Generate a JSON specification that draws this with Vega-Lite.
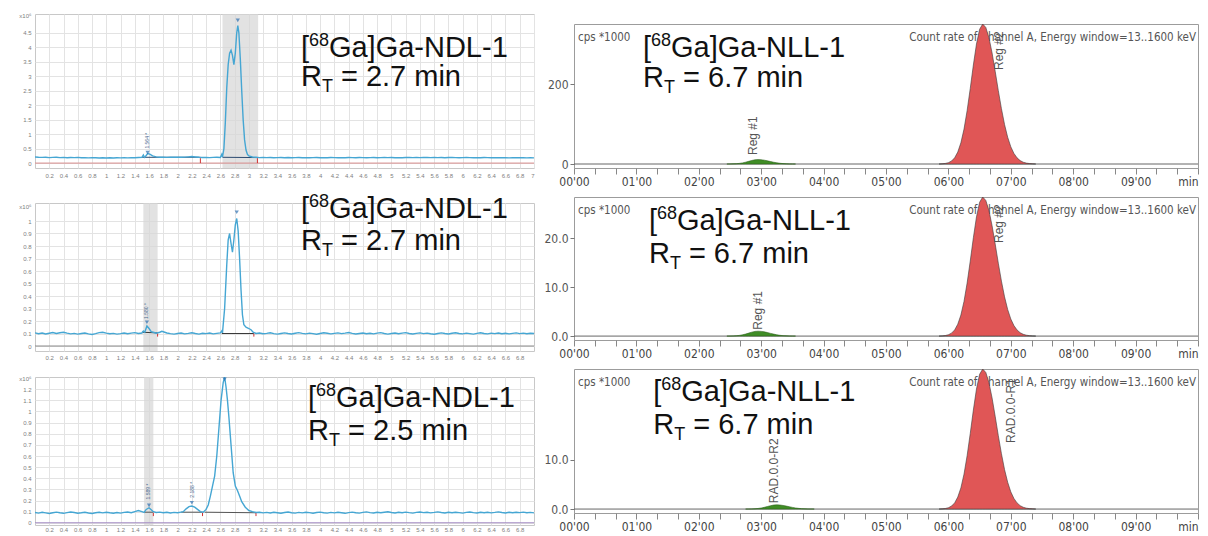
{
"$schema": "https://vega.github.io/schema/vega-lite/v6.json",
"background": "white",
"padding": {"left": 16, "top": 11, "right": 0, "bottom": 0},
"config": {"font": "Liberation Sans", "text": {"font": "Liberation Sans"}, "concat": {"spacing": 10}, "axis": {"labelOverlap": false}},
"datasets": {
"one": [{}],
"tl": [{"t":0,"v":0.21},{"t":0.05,"v":0.2},{"t":0.1,"v":0.196},{"t":0.15,"v":0.203},{"t":0.2,"v":0.19},{"t":0.25,"v":0.197},{"t":0.3,"v":0.201},{"t":0.35,"v":0.19},{"t":0.4,"v":0.196},{"t":0.45,"v":0.186},{"t":0.5,"v":0.195},{"t":0.55,"v":0.19},{"t":0.6,"v":0.197},{"t":0.65,"v":0.185},{"t":0.7,"v":0.19},{"t":0.75,"v":0.18},{"t":0.8,"v":0.188},{"t":0.85,"v":0.184},{"t":0.9,"v":0.178},{"t":0.95,"v":0.186},{"t":1,"v":0.176},{"t":1.05,"v":0.182},{"t":1.1,"v":0.175},{"t":1.15,"v":0.184},{"t":1.2,"v":0.179},{"t":1.25,"v":0.187},{"t":1.3,"v":0.181},{"t":1.35,"v":0.19},{"t":1.4,"v":0.185},{"t":1.45,"v":0.194},{"t":1.5,"v":0.2},{"t":1.52,"v":0.28},{"t":1.535,"v":0.2},{"t":1.55,"v":0.23},{"t":1.58,"v":0.33},{"t":1.61,"v":0.31},{"t":1.65,"v":0.25},{"t":1.7,"v":0.215},{"t":1.75,"v":0.2},{"t":1.8,"v":0.205},{"t":1.85,"v":0.198},{"t":1.9,"v":0.203},{"t":1.95,"v":0.2},{"t":2,"v":0.206},{"t":2.05,"v":0.2},{"t":2.1,"v":0.205},{"t":2.15,"v":0.215},{"t":2.2,"v":0.225},{"t":2.25,"v":0.212},{"t":2.3,"v":0.2},{"t":2.35,"v":0.193},{"t":2.4,"v":0.198},{"t":2.45,"v":0.19},{"t":2.5,"v":0.197},{"t":2.55,"v":0.2},{"t":2.6,"v":0.194},{"t":2.62,"v":0.3},{"t":2.63,"v":0.21},{"t":2.65,"v":0.5},{"t":2.67,"v":1.4},{"t":2.69,"v":2.6},{"t":2.71,"v":3.4},{"t":2.73,"v":3.8},{"t":2.75,"v":3.9},{"t":2.77,"v":3.72},{"t":2.79,"v":3.4},{"t":2.81,"v":3.8},{"t":2.83,"v":4.5},{"t":2.845,"v":4.75},{"t":2.86,"v":4.5},{"t":2.88,"v":3.6},{"t":2.9,"v":2.5},{"t":2.92,"v":1.5},{"t":2.94,"v":0.8},{"t":2.96,"v":0.45},{"t":2.98,"v":0.3},{"t":3,"v":0.25},{"t":3.05,"v":0.21},{"t":3.1,"v":0.2},{"t":3.15,"v":0.19},{"t":3.2,"v":0.196},{"t":3.25,"v":0.187},{"t":3.3,"v":0.193},{"t":3.35,"v":0.184},{"t":3.4,"v":0.19},{"t":3.45,"v":0.195},{"t":3.5,"v":0.186},{"t":3.55,"v":0.191},{"t":3.6,"v":0.183},{"t":3.65,"v":0.19},{"t":3.7,"v":0.194},{"t":3.75,"v":0.185},{"t":3.8,"v":0.19},{"t":3.85,"v":0.182},{"t":3.9,"v":0.188},{"t":3.95,"v":0.193},{"t":4,"v":0.184},{"t":4.05,"v":0.19},{"t":4.1,"v":0.186},{"t":4.15,"v":0.194},{"t":4.2,"v":0.188},{"t":4.25,"v":0.183},{"t":4.3,"v":0.19},{"t":4.35,"v":0.186},{"t":4.4,"v":0.195},{"t":4.45,"v":0.189},{"t":4.5,"v":0.184},{"t":4.55,"v":0.191},{"t":4.6,"v":0.187},{"t":4.65,"v":0.182},{"t":4.7,"v":0.189},{"t":4.75,"v":0.193},{"t":4.8,"v":0.186},{"t":4.85,"v":0.19},{"t":4.9,"v":0.196},{"t":4.95,"v":0.188},{"t":5,"v":0.192},{"t":5.05,"v":0.186},{"t":5.1,"v":0.19},{"t":5.15,"v":0.184},{"t":5.2,"v":0.191},{"t":5.25,"v":0.197},{"t":5.3,"v":0.189},{"t":5.35,"v":0.194},{"t":5.4,"v":0.187},{"t":5.45,"v":0.192},{"t":5.5,"v":0.198},{"t":5.55,"v":0.19},{"t":5.6,"v":0.194},{"t":5.65,"v":0.188},{"t":5.7,"v":0.193},{"t":5.75,"v":0.186},{"t":5.8,"v":0.191},{"t":5.85,"v":0.196},{"t":5.9,"v":0.189},{"t":5.95,"v":0.185},{"t":6,"v":0.19},{"t":6.05,"v":0.194},{"t":6.1,"v":0.187},{"t":6.15,"v":0.183},{"t":6.2,"v":0.19},{"t":6.25,"v":0.186},{"t":6.3,"v":0.192},{"t":6.35,"v":0.187},{"t":6.4,"v":0.182},{"t":6.45,"v":0.188},{"t":6.5,"v":0.184},{"t":6.55,"v":0.19},{"t":6.6,"v":0.185},{"t":6.65,"v":0.18},{"t":6.7,"v":0.186},{"t":6.75,"v":0.182},{"t":6.8,"v":0.188},{"t":6.85,"v":0.183},{"t":6.9,"v":0.179},{"t":6.95,"v":0.185},{"t":7,"v":0.18}],
"ml": [{"t":0,"v":0.105},{"t":0.05,"v":0.098},{"t":0.1,"v":0.104},{"t":0.15,"v":0.096},{"t":0.2,"v":0.102},{"t":0.25,"v":0.108},{"t":0.3,"v":0.1},{"t":0.35,"v":0.106},{"t":0.4,"v":0.11},{"t":0.45,"v":0.103},{"t":0.5,"v":0.097},{"t":0.55,"v":0.101},{"t":0.6,"v":0.095},{"t":0.65,"v":0.1},{"t":0.7,"v":0.104},{"t":0.75,"v":0.097},{"t":0.8,"v":0.092},{"t":0.85,"v":0.099},{"t":0.9,"v":0.107},{"t":0.95,"v":0.11},{"t":1,"v":0.103},{"t":1.05,"v":0.098},{"t":1.1,"v":0.101},{"t":1.15,"v":0.095},{"t":1.2,"v":0.099},{"t":1.25,"v":0.104},{"t":1.3,"v":0.098},{"t":1.35,"v":0.103},{"t":1.4,"v":0.107},{"t":1.45,"v":0.1},{"t":1.5,"v":0.104},{"t":1.52,"v":0.12},{"t":1.54,"v":0.11},{"t":1.57,"v":0.16},{"t":1.6,"v":0.14},{"t":1.63,"v":0.115},{"t":1.67,"v":0.108},{"t":1.7,"v":0.102},{"t":1.75,"v":0.11},{"t":1.78,"v":0.118},{"t":1.82,"v":0.11},{"t":1.85,"v":0.104},{"t":1.9,"v":0.099},{"t":1.95,"v":0.095},{"t":2,"v":0.1},{"t":2.05,"v":0.104},{"t":2.1,"v":0.097},{"t":2.15,"v":0.101},{"t":2.2,"v":0.106},{"t":2.25,"v":0.1},{"t":2.3,"v":0.095},{"t":2.35,"v":0.102},{"t":2.4,"v":0.099},{"t":2.45,"v":0.104},{"t":2.5,"v":0.097},{"t":2.55,"v":0.101},{"t":2.6,"v":0.105},{"t":2.62,"v":0.12},{"t":2.63,"v":0.105},{"t":2.66,"v":0.3},{"t":2.69,"v":0.65},{"t":2.71,"v":0.85},{"t":2.73,"v":0.9},{"t":2.75,"v":0.82},{"t":2.77,"v":0.75},{"t":2.79,"v":0.85},{"t":2.81,"v":0.97},{"t":2.83,"v":1.02},{"t":2.85,"v":0.92},{"t":2.87,"v":0.7},{"t":2.89,"v":0.45},{"t":2.91,"v":0.25},{"t":2.93,"v":0.17},{"t":2.96,"v":0.15},{"t":3,"v":0.14},{"t":3.03,"v":0.13},{"t":3.06,"v":0.11},{"t":3.1,"v":0.1},{"t":3.15,"v":0.104},{"t":3.2,"v":0.098},{"t":3.25,"v":0.101},{"t":3.3,"v":0.106},{"t":3.35,"v":0.099},{"t":3.4,"v":0.095},{"t":3.45,"v":0.1},{"t":3.5,"v":0.105},{"t":3.55,"v":0.1},{"t":3.6,"v":0.096},{"t":3.65,"v":0.102},{"t":3.7,"v":0.107},{"t":3.75,"v":0.101},{"t":3.8,"v":0.097},{"t":3.85,"v":0.103},{"t":3.9,"v":0.099},{"t":3.95,"v":0.094},{"t":4,"v":0.1},{"t":4.05,"v":0.106},{"t":4.1,"v":0.102},{"t":4.15,"v":0.097},{"t":4.2,"v":0.101},{"t":4.25,"v":0.105},{"t":4.3,"v":0.099},{"t":4.35,"v":0.103},{"t":4.4,"v":0.108},{"t":4.45,"v":0.101},{"t":4.5,"v":0.096},{"t":4.55,"v":0.1},{"t":4.6,"v":0.104},{"t":4.65,"v":0.098},{"t":4.7,"v":0.102},{"t":4.75,"v":0.097},{"t":4.8,"v":0.103},{"t":4.85,"v":0.107},{"t":4.9,"v":0.1},{"t":4.95,"v":0.095},{"t":5,"v":0.1},{"t":5.05,"v":0.104},{"t":5.1,"v":0.098},{"t":5.15,"v":0.103},{"t":5.2,"v":0.107},{"t":5.25,"v":0.1},{"t":5.3,"v":0.096},{"t":5.35,"v":0.101},{"t":5.4,"v":0.105},{"t":5.45,"v":0.099},{"t":5.5,"v":0.103},{"t":5.55,"v":0.098},{"t":5.6,"v":0.094},{"t":5.65,"v":0.1},{"t":5.7,"v":0.105},{"t":5.75,"v":0.1},{"t":5.8,"v":0.096},{"t":5.85,"v":0.102},{"t":5.9,"v":0.106},{"t":5.95,"v":0.1},{"t":6,"v":0.097},{"t":6.05,"v":0.103},{"t":6.1,"v":0.099},{"t":6.15,"v":0.095},{"t":6.2,"v":0.101},{"t":6.25,"v":0.106},{"t":6.3,"v":0.1},{"t":6.35,"v":0.097},{"t":6.4,"v":0.103},{"t":6.45,"v":0.099},{"t":6.5,"v":0.104},{"t":6.55,"v":0.098},{"t":6.6,"v":0.102},{"t":6.65,"v":0.097},{"t":6.7,"v":0.101},{"t":6.75,"v":0.105},{"t":6.8,"v":0.099},{"t":6.85,"v":0.103},{"t":6.9,"v":0.098},{"t":6.95,"v":0.102},{"t":7,"v":0.1}],
"bl": [{"t":0,"v":0.092},{"t":0.05,"v":0.087},{"t":0.1,"v":0.094},{"t":0.15,"v":0.089},{"t":0.2,"v":0.083},{"t":0.25,"v":0.09},{"t":0.3,"v":0.096},{"t":0.35,"v":0.09},{"t":0.4,"v":0.085},{"t":0.45,"v":0.091},{"t":0.5,"v":0.097},{"t":0.55,"v":0.092},{"t":0.6,"v":0.086},{"t":0.65,"v":0.09},{"t":0.7,"v":0.095},{"t":0.75,"v":0.088},{"t":0.8,"v":0.084},{"t":0.85,"v":0.09},{"t":0.9,"v":0.094},{"t":0.95,"v":0.089},{"t":1,"v":0.095},{"t":1.05,"v":0.09},{"t":1.1,"v":0.086},{"t":1.15,"v":0.092},{"t":1.2,"v":0.087},{"t":1.25,"v":0.093},{"t":1.3,"v":0.097},{"t":1.35,"v":0.09},{"t":1.4,"v":0.1},{"t":1.45,"v":0.11},{"t":1.5,"v":0.1},{"t":1.53,"v":0.094},{"t":1.56,"v":0.12},{"t":1.6,"v":0.135},{"t":1.63,"v":0.118},{"t":1.66,"v":0.1},{"t":1.7,"v":0.092},{"t":1.75,"v":0.096},{"t":1.8,"v":0.09},{"t":1.85,"v":0.094},{"t":1.9,"v":0.088},{"t":1.95,"v":0.093},{"t":2,"v":0.09},{"t":2.05,"v":0.096},{"t":2.08,"v":0.1},{"t":2.12,"v":0.125},{"t":2.16,"v":0.145},{"t":2.2,"v":0.15},{"t":2.24,"v":0.14},{"t":2.28,"v":0.12},{"t":2.32,"v":0.1},{"t":2.36,"v":0.095},{"t":2.4,"v":0.12},{"t":2.43,"v":0.16},{"t":2.46,"v":0.24},{"t":2.49,"v":0.33},{"t":2.52,"v":0.42},{"t":2.55,"v":0.6},{"t":2.58,"v":0.85},{"t":2.61,"v":1.1},{"t":2.64,"v":1.26},{"t":2.66,"v":1.31},{"t":2.68,"v":1.22},{"t":2.7,"v":1.1},{"t":2.72,"v":0.95},{"t":2.75,"v":0.7},{"t":2.78,"v":0.45},{"t":2.81,"v":0.33},{"t":2.84,"v":0.29},{"t":2.87,"v":0.24},{"t":2.9,"v":0.19},{"t":2.95,"v":0.14},{"t":3,"v":0.11},{"t":3.05,"v":0.1},{"t":3.1,"v":0.092},{"t":3.15,"v":0.095},{"t":3.2,"v":0.089},{"t":3.25,"v":0.093},{"t":3.3,"v":0.088},{"t":3.35,"v":0.094},{"t":3.4,"v":0.09},{"t":3.45,"v":0.086},{"t":3.5,"v":0.092},{"t":3.55,"v":0.097},{"t":3.6,"v":0.09},{"t":3.65,"v":0.087},{"t":3.7,"v":0.093},{"t":3.75,"v":0.089},{"t":3.8,"v":0.095},{"t":3.85,"v":0.091},{"t":3.9,"v":0.086},{"t":3.95,"v":0.092},{"t":4,"v":0.096},{"t":4.05,"v":0.09},{"t":4.1,"v":0.087},{"t":4.15,"v":0.093},{"t":4.2,"v":0.089},{"t":4.25,"v":0.094},{"t":4.3,"v":0.09},{"t":4.35,"v":0.085},{"t":4.4,"v":0.091},{"t":4.45,"v":0.096},{"t":4.5,"v":0.09},{"t":4.55,"v":0.087},{"t":4.6,"v":0.093},{"t":4.65,"v":0.098},{"t":4.7,"v":0.091},{"t":4.75,"v":0.088},{"t":4.8,"v":0.094},{"t":4.85,"v":0.09},{"t":4.9,"v":0.095},{"t":4.95,"v":0.099},{"t":5,"v":0.092},{"t":5.05,"v":0.088},{"t":5.1,"v":0.094},{"t":5.15,"v":0.09},{"t":5.2,"v":0.096},{"t":5.25,"v":0.091},{"t":5.3,"v":0.087},{"t":5.35,"v":0.093},{"t":5.4,"v":0.097},{"t":5.45,"v":0.091},{"t":5.5,"v":0.094},{"t":5.55,"v":0.089},{"t":5.6,"v":0.093},{"t":5.65,"v":0.098},{"t":5.7,"v":0.092},{"t":5.75,"v":0.088},{"t":5.8,"v":0.094},{"t":5.85,"v":0.09},{"t":5.9,"v":0.095},{"t":5.95,"v":0.091},{"t":6,"v":0.087},{"t":6.05,"v":0.093},{"t":6.1,"v":0.097},{"t":6.15,"v":0.091},{"t":6.2,"v":0.088},{"t":6.25,"v":0.094},{"t":6.3,"v":0.09},{"t":6.35,"v":0.095},{"t":6.4,"v":0.089},{"t":6.45,"v":0.093},{"t":6.5,"v":0.098},{"t":6.55,"v":0.092},{"t":6.6,"v":0.088},{"t":6.65,"v":0.094},{"t":6.7,"v":0.09},{"t":6.75,"v":0.095},{"t":6.8,"v":0.091},{"t":6.85,"v":0.096},{"t":6.9,"v":0.09},{"t":6.95,"v":0.093},{"t":7,"v":0.089}],
"red350": [{"t":5.85,"v":0},{"t":5.9,"v":0.5},{"t":5.95,"v":1.4},{"t":6,"v":3.3},{"t":6.05,"v":7.4},{"t":6.1,"v":15.4},{"t":6.15,"v":29.8},{"t":6.2,"v":52.9},{"t":6.25,"v":87.2},{"t":6.3,"v":133.4},{"t":6.35,"v":188.7},{"t":6.4,"v":247.5},{"t":6.45,"v":300},{"t":6.5,"v":336.7},{"t":6.55,"v":350},{"t":6.6,"v":341.3},{"t":6.65,"v":315.7},{"t":6.7,"v":277.6},{"t":6.75,"v":231.7},{"t":6.8,"v":183.4},{"t":6.85,"v":138.3},{"t":6.9,"v":98.7},{"t":6.95,"v":66.9},{"t":7,"v":43.1},{"t":7.05,"v":26.5},{"t":7.1,"v":15.4},{"t":7.15,"v":8.5},{"t":7.2,"v":4.4},{"t":7.25,"v":2.2},{"t":7.3,"v":1.1},{"t":7.35,"v":0.5},{"t":7.4,"v":0}],
"red28": [{"t":5.85,"v":0},{"t":5.9,"v":0.04},{"t":5.95,"v":0.11},{"t":6,"v":0.27},{"t":6.05,"v":0.6},{"t":6.1,"v":1.25},{"t":6.15,"v":2.42},{"t":6.2,"v":4.29},{"t":6.25,"v":7.08},{"t":6.3,"v":10.82},{"t":6.35,"v":15.31},{"t":6.4,"v":20.08},{"t":6.45,"v":24.34},{"t":6.5,"v":27.32},{"t":6.55,"v":28.4},{"t":6.6,"v":27.69},{"t":6.65,"v":25.62},{"t":6.7,"v":22.52},{"t":6.75,"v":18.8},{"t":6.8,"v":14.88},{"t":6.85,"v":11.22},{"t":6.9,"v":8.01},{"t":6.95,"v":5.43},{"t":7,"v":3.49},{"t":7.05,"v":2.15},{"t":7.1,"v":1.25},{"t":7.15,"v":0.69},{"t":7.2,"v":0.36},{"t":7.25,"v":0.18},{"t":7.3,"v":0.09},{"t":7.35,"v":0.04},{"t":7.4,"v":0}],
"gtr": [{"t":2.45,"v":0},{"t":2.5,"v":0.12},{"t":2.55,"v":0.33},{"t":2.6,"v":0.73},{"t":2.65,"v":1.49},{"t":2.7,"v":2.74},{"t":2.75,"v":4.52},{"t":2.8,"v":6.68},{"t":2.85,"v":8.81},{"t":2.9,"v":10.4},{"t":2.95,"v":11},{"t":3,"v":10.6},{"t":3.05,"v":9.5},{"t":3.1,"v":7.9},{"t":3.15,"v":6.1},{"t":3.2,"v":4.4},{"t":3.25,"v":2.9},{"t":3.3,"v":1.8},{"t":3.35,"v":1},{"t":3.4,"v":0.5},{"t":3.45,"v":0.2},{"t":3.5,"v":0.1},{"t":3.55,"v":0}],
"gmr": [{"t":2.45,"v":0},{"t":2.5,"v":0.01},{"t":2.55,"v":0.03},{"t":2.6,"v":0.07},{"t":2.65,"v":0.14},{"t":2.7,"v":0.25},{"t":2.75,"v":0.41},{"t":2.8,"v":0.61},{"t":2.85,"v":0.8},{"t":2.9,"v":0.95},{"t":2.95,"v":1},{"t":3,"v":0.96},{"t":3.05,"v":0.86},{"t":3.1,"v":0.72},{"t":3.15,"v":0.55},{"t":3.2,"v":0.4},{"t":3.25,"v":0.26},{"t":3.3,"v":0.16},{"t":3.35,"v":0.09},{"t":3.4,"v":0.05},{"t":3.45,"v":0.02},{"t":3.5,"v":0.01},{"t":3.55,"v":0}],
"gbr": [{"t":2.75,"v":0},{"t":2.8,"v":0.01},{"t":2.85,"v":0.03},{"t":2.9,"v":0.06},{"t":2.95,"v":0.12},{"t":3,"v":0.21},{"t":3.05,"v":0.35},{"t":3.1,"v":0.52},{"t":3.15,"v":0.68},{"t":3.2,"v":0.81},{"t":3.25,"v":0.85},{"t":3.3,"v":0.82},{"t":3.35,"v":0.73},{"t":3.4,"v":0.61},{"t":3.45,"v":0.47},{"t":3.5,"v":0.34},{"t":3.55,"v":0.22},{"t":3.6,"v":0.14},{"t":3.65,"v":0.08},{"t":3.7,"v":0.04},{"t":3.75,"v":0.02},{"t":3.8,"v":0.01},{"t":3.85,"v":0}]
},
"spacing": 7,
"hconcat": [
{"vconcat": [
{"width": 499, "height": 154, "view": {"stroke": "#c8c8c8"},
 "layer": [
  {"data": {"values": [{"a": 2.63, "b": 3.13}]}, "mark": {"type": "rect", "color": "#d6d6d6", "opacity": 0.7}, "encoding": {"x": {"field": "a", "type": "quantitative", "scale": {"domain": [0, 7], "nice": false, "zero": false}, "axis": {"title": null}}, "x2": {"field": "b"}}},
  {"data": {"name": "one"}, "mark": {"type": "rule", "color": "#d98c8c", "strokeWidth": 1}, "encoding": {"y": {"datum": 0, "type": "quantitative", "axis": {"title": null}}}},
  {"data": {"values": [{"a": 1.5, "b": 2.32, "c": 0.2, "d": 0.2}, {"a": 2.63, "b": 3.12, "c": 0.2, "d": 0.19}]}, "mark": {"type": "rule", "color": "#2c4a70", "strokeWidth": 1}, "encoding": {"x": {"field": "a", "type": "quantitative", "axis": {"title": null}}, "x2": {"field": "b"}, "y": {"field": "c", "type": "quantitative", "axis": {"title": null}}, "y2": {"field": "d"}}},
  {"data": {"values": [{"a": 2.32, "c": 0, "d": 0.17}, {"a": 3.12, "c": 0, "d": 0.17}]}, "mark": {"type": "rule", "color": "#d03030", "strokeWidth": 1}, "encoding": {"x": {"field": "a", "type": "quantitative", "axis": {"title": null}}, "y": {"field": "c", "type": "quantitative", "axis": {"title": null}}, "y2": {"field": "d"}}},
  {"data": {"name": "tl"}, "mark": {"type": "line", "color": "#45a6d3", "strokeWidth": 1.4, "clip": true},
   "encoding": {
    "x": {"field": "t", "type": "quantitative", "scale": {"domain": [0, 7], "nice": false, "zero": false}, "axis": {"values": [0.2,0.4,0.6,0.8,1,1.2,1.4,1.6,1.8,2,2.2,2.4,2.6,2.8,3,3.2,3.4,3.6,3.8,4,4.2,4.4,4.6,4.8,5,5.2,5.4,5.6,5.8,6,6.2,6.4,6.6,6.8,7], "tickCount": 200, "labelExpr": "format(datum.value, '.1~f')", "title": "Retention Time (min)", "titleColor": "#b0b0b0", "titleFontSize": 6, "titleFontWeight": "normal", "titlePadding": 5, "grid": true, "gridColor": "#e3e3e3", "domain": false, "ticks": false, "labelFontSize": 6, "labelColor": "#808080", "labelPadding": 4, "labelOverlap": false, "labelFlush": true}},
    "y": {"field": "v", "type": "quantitative", "scale": {"domain": [-0.17, 5.15], "nice": false, "zero": false}, "axis": {"values": [0,0.5,1,1.5,2,2.5,3,3.5,4,4.5,5.1], "tickCount": 200, "labelExpr": "datum.value > 5 ? 'x10⁶' : format(datum.value, '.1~f')", "title": null, "grid": true, "gridColor": {"condition": {"test": "datum.value > 5", "value": "transparent"}, "value": "#e3e3e3"}, "domain": false, "ticks": false, "labelFontSize": 6, "labelColor": "#808080", "labelPadding": 4, "labelOverlap": false, "minExtent": 18, "maxExtent": 18}}
   }},
  {"data": {"values": [{"t": 1.58, "v": 0.36}, {"t": 2.845, "v": 4.93}]}, "mark": {"type": "point", "shape": "triangle-down", "filled": true, "color": "#2d6fb0", "size": 18}, "encoding": {"x": {"field": "t", "type": "quantitative", "axis": {"title": null}}, "y": {"field": "v", "type": "quantitative", "axis": {"title": null}}}},
  {"data": {"values": [{"t": 1.57, "v": 0.5, "s": "1.564 *"}]}, "mark": {"type": "text", "angle": 270, "align": "left", "baseline": "middle", "fontSize": 5, "color": "#4a6a90"}, "encoding": {"x": {"field": "t", "type": "quantitative", "axis": {"title": null}}, "y": {"field": "v", "type": "quantitative", "axis": {"title": null}}, "text": {"field": "s"}}},
  {"data": {"name": "one"}, "mark": {"type": "text", "text": "[", "align": "left", "baseline": "alphabetic", "fontSize": 29, "color": "#111"}, "encoding": {"x": {"datum": 3.73, "type": "quantitative", "axis": {"title": null}}, "y": {"datum": 3.68, "type": "quantitative", "axis": {"title": null}}}},
  {"data": {"name": "one"}, "mark": {"type": "text", "text": "68", "align": "left", "baseline": "alphabetic", "fontSize": 18, "dx": 8, "dy": -11, "color": "#111"}, "encoding": {"x": {"datum": 3.73, "type": "quantitative", "axis": {"title": null}}, "y": {"datum": 3.68, "type": "quantitative", "axis": {"title": null}}}},
  {"data": {"name": "one"}, "mark": {"type": "text", "text": "Ga]Ga-NDL-1", "align": "left", "baseline": "alphabetic", "fontSize": 29, "dx": 28, "color": "#111"}, "encoding": {"x": {"datum": 3.73, "type": "quantitative", "axis": {"title": null}}, "y": {"datum": 3.68, "type": "quantitative", "axis": {"title": null}}}},
  {"data": {"name": "one"}, "mark": {"type": "text", "text": "R", "align": "left", "baseline": "alphabetic", "fontSize": 29, "color": "#111"}, "encoding": {"x": {"datum": 3.73, "type": "quantitative", "axis": {"title": null}}, "y": {"datum": 2.68, "type": "quantitative", "axis": {"title": null}}}},
  {"data": {"name": "one"}, "mark": {"type": "text", "text": "T", "align": "left", "baseline": "alphabetic", "fontSize": 18, "dx": 21, "dy": 6, "color": "#111"}, "encoding": {"x": {"datum": 3.73, "type": "quantitative", "axis": {"title": null}}, "y": {"datum": 2.68, "type": "quantitative", "axis": {"title": null}}}},
  {"data": {"name": "one"}, "mark": {"type": "text", "text": "= 2.7 min", "align": "left", "baseline": "alphabetic", "fontSize": 29, "dx": 40, "color": "#111"}, "encoding": {"x": {"datum": 3.73, "type": "quantitative", "axis": {"title": null}}, "y": {"datum": 2.68, "type": "quantitative", "axis": {"title": null}}}}
 ]},
{"width": 499, "height": 148, "view": {"stroke": "#c8c8c8"},
 "layer": [
  {"data": {"values": [{"a": 1.52, "b": 1.72}]}, "mark": {"type": "rect", "color": "#d6d6d6", "opacity": 0.7}, "encoding": {"x": {"field": "a", "type": "quantitative", "scale": {"domain": [0, 7], "nice": false, "zero": false}, "axis": {"title": null}}, "x2": {"field": "b"}}},
  {"data": {"name": "one"}, "mark": {"type": "rule", "color": "#8a8a8a", "strokeWidth": 1}, "encoding": {"y": {"datum": 0, "type": "quantitative", "axis": {"title": null}}}},
  {"data": {"values": [{"a": 1.5, "b": 1.72, "c": 0.11, "d": 0.105}, {"a": 2.62, "b": 3.07, "c": 0.1, "d": 0.1}]}, "mark": {"type": "rule", "color": "#3a3a3a", "strokeWidth": 1}, "encoding": {"x": {"field": "a", "type": "quantitative", "axis": {"title": null}}, "x2": {"field": "b"}, "y": {"field": "c", "type": "quantitative", "axis": {"title": null}}, "y2": {"field": "d"}}},
  {"data": {"values": [{"a": 1.72, "c": 0.075, "d": 0.1}, {"a": 3.07, "c": 0.075, "d": 0.1}]}, "mark": {"type": "rule", "color": "#d03030", "strokeWidth": 1}, "encoding": {"x": {"field": "a", "type": "quantitative", "axis": {"title": null}}, "y": {"field": "c", "type": "quantitative", "axis": {"title": null}}, "y2": {"field": "d"}}},
  {"data": {"name": "ml"}, "mark": {"type": "line", "color": "#45a6d3", "strokeWidth": 1.4, "clip": true},
   "encoding": {
    "x": {"field": "t", "type": "quantitative", "scale": {"domain": [0, 7], "nice": false, "zero": false}, "axis": {"values": [0.2,0.4,0.6,0.8,1,1.2,1.4,1.6,1.8,2,2.2,2.4,2.6,2.8,3,3.2,3.4,3.6,3.8,4,4.2,4.4,4.6,4.8,5,5.2,5.4,5.6,5.8,6,6.2,6.4,6.6,6.8], "tickCount": 200, "labelExpr": "format(datum.value, '.1~f')", "title": null, "grid": true, "gridColor": "#e3e3e3", "domain": false, "ticks": false, "labelFontSize": 6, "labelColor": "#808080", "labelPadding": 3, "labelOverlap": false, "labelFlush": false}},
    "y": {"field": "v", "type": "quantitative", "scale": {"domain": [-0.04, 1.144], "nice": false, "zero": false}, "axis": {"values": [0,0.1,0.2,0.3,0.4,0.5,0.6,0.7,0.8,0.9,1,1.12], "tickCount": 200, "labelExpr": "datum.value > 1.05 ? 'x10⁶' : format(datum.value, '.1~f')", "title": null, "grid": true, "gridColor": {"condition": {"test": "datum.value > 1.05", "value": "transparent"}, "value": "#e3e3e3"}, "domain": false, "ticks": false, "labelFontSize": 6, "labelColor": "#808080", "labelPadding": 4, "labelOverlap": false, "minExtent": 18, "maxExtent": 18}}
   }},
  {"data": {"values": [{"t": 1.57, "v": 0.19}, {"t": 2.83, "v": 1.07}]}, "mark": {"type": "point", "shape": "triangle-down", "filled": true, "color": "#2d6fb0", "size": 18}, "encoding": {"x": {"field": "t", "type": "quantitative", "axis": {"title": null}}, "y": {"field": "v", "type": "quantitative", "axis": {"title": null}}}},
  {"data": {"values": [{"t": 1.56, "v": 0.216, "s": "1.580 *"}]}, "mark": {"type": "text", "angle": 270, "align": "left", "baseline": "middle", "fontSize": 5, "color": "#4a6a90"}, "encoding": {"x": {"field": "t", "type": "quantitative", "axis": {"title": null}}, "y": {"field": "v", "type": "quantitative", "axis": {"title": null}}, "text": {"field": "s"}}},
  {"data": {"name": "one"}, "mark": {"type": "text", "text": "[", "align": "left", "baseline": "alphabetic", "fontSize": 29, "color": "#111"}, "encoding": {"x": {"datum": 3.73, "type": "quantitative", "axis": {"title": null}}, "y": {"datum": 1.024, "type": "quantitative", "axis": {"title": null}}}},
  {"data": {"name": "one"}, "mark": {"type": "text", "text": "68", "align": "left", "baseline": "alphabetic", "fontSize": 18, "dx": 8, "dy": -11, "color": "#111"}, "encoding": {"x": {"datum": 3.73, "type": "quantitative", "axis": {"title": null}}, "y": {"datum": 1.024, "type": "quantitative", "axis": {"title": null}}}},
  {"data": {"name": "one"}, "mark": {"type": "text", "text": "Ga]Ga-NDL-1", "align": "left", "baseline": "alphabetic", "fontSize": 29, "dx": 28, "color": "#111"}, "encoding": {"x": {"datum": 3.73, "type": "quantitative", "axis": {"title": null}}, "y": {"datum": 1.024, "type": "quantitative", "axis": {"title": null}}}},
  {"data": {"name": "one"}, "mark": {"type": "text", "text": "R", "align": "left", "baseline": "alphabetic", "fontSize": 29, "color": "#111"}, "encoding": {"x": {"datum": 3.73, "type": "quantitative", "axis": {"title": null}}, "y": {"datum": 0.768, "type": "quantitative", "axis": {"title": null}}}},
  {"data": {"name": "one"}, "mark": {"type": "text", "text": "T", "align": "left", "baseline": "alphabetic", "fontSize": 18, "dx": 21, "dy": 6, "color": "#111"}, "encoding": {"x": {"datum": 3.73, "type": "quantitative", "axis": {"title": null}}, "y": {"datum": 0.768, "type": "quantitative", "axis": {"title": null}}}},
  {"data": {"name": "one"}, "mark": {"type": "text", "text": "= 2.7 min", "align": "left", "baseline": "alphabetic", "fontSize": 29, "dx": 40, "color": "#111"}, "encoding": {"x": {"datum": 3.73, "type": "quantitative", "axis": {"title": null}}, "y": {"datum": 0.768, "type": "quantitative", "axis": {"title": null}}}}
 ]},
{"width": 499, "height": 148, "view": {"stroke": "#c8c8c8"},
 "layer": [
  {"data": {"values": [{"a": 1.53, "b": 1.66}]}, "mark": {"type": "rect", "color": "#d6d6d6", "opacity": 0.7}, "encoding": {"x": {"field": "a", "type": "quantitative", "scale": {"domain": [0, 7], "nice": false, "zero": false}, "axis": {"title": null}}, "x2": {"field": "b"}}},
  {"data": {"name": "one"}, "mark": {"type": "rule", "color": "#a58cc4", "strokeWidth": 1.2}, "encoding": {"y": {"datum": 0, "type": "quantitative", "axis": {"title": null}}}},
  {"data": {"values": [{"a": 1.53, "b": 1.66, "c": 0.095, "d": 0.095}, {"a": 2.05, "b": 2.35, "c": 0.095, "d": 0.095}, {"a": 2.38, "b": 3.1, "c": 0.095, "d": 0.09}]}, "mark": {"type": "rule", "color": "#555555", "strokeWidth": 1}, "encoding": {"x": {"field": "a", "type": "quantitative", "axis": {"title": null}}, "x2": {"field": "b"}, "y": {"field": "c", "type": "quantitative", "axis": {"title": null}}, "y2": {"field": "d"}}},
  {"data": {"values": [{"a": 1.66, "c": 0.06, "d": 0.09}, {"a": 2.35, "c": 0.06, "d": 0.09}, {"a": 3.1, "c": 0.06, "d": 0.09}]}, "mark": {"type": "rule", "color": "#d03030", "strokeWidth": 1}, "encoding": {"x": {"field": "a", "type": "quantitative", "axis": {"title": null}}, "y": {"field": "c", "type": "quantitative", "axis": {"title": null}}, "y2": {"field": "d"}}},
  {"data": {"name": "bl"}, "mark": {"type": "line", "color": "#45a6d3", "strokeWidth": 1.4, "clip": true},
   "encoding": {
    "x": {"field": "t", "type": "quantitative", "scale": {"domain": [0, 7], "nice": false, "zero": false}, "axis": {"values": [0.2,0.4,0.6,0.8,1,1.2,1.4,1.6,1.8,2,2.2,2.4,2.6,2.8,3,3.2,3.4,3.6,3.8,4,4.2,4.4,4.6,4.8,5,5.2,5.4,5.6,5.8,6,6.2,6.4,6.6,6.8], "tickCount": 200, "labelExpr": "format(datum.value, '.1~f')", "title": null, "grid": true, "gridColor": "#e3e3e3", "domain": false, "ticks": false, "labelFontSize": 6, "labelColor": "#808080", "labelPadding": 1, "labelOverlap": false, "labelFlush": false}},
    "y": {"field": "v", "type": "quantitative", "scale": {"domain": [-0.02, 1.31], "nice": false, "zero": false}, "axis": {"values": [0,0.1,0.2,0.3,0.4,0.5,0.6,0.7,0.8,0.9,1,1.1,1.2,1.3], "tickCount": 200, "labelExpr": "datum.value > 1.25 ? 'x10⁶' : format(datum.value, '.1~f')", "title": "response", "titleFontSize": 6, "titleColor": "#888888", "titleFontWeight": "normal", "titlePadding": 2, "grid": true, "gridColor": {"condition": {"test": "datum.value > 1.25", "value": "transparent"}, "value": "#e3e3e3"}, "domain": false, "ticks": false, "labelFontSize": 6, "labelColor": "#808080", "labelPadding": 4, "labelOverlap": false, "minExtent": 18, "maxExtent": 18}}
   }},
  {"data": {"values": [{"t": 1.6, "v": 0.156}, {"t": 2.2, "v": 0.18}, {"t": 2.66, "v": 1.29}]}, "mark": {"type": "point", "shape": "triangle-down", "filled": true, "color": "#2d6fb0", "size": 18}, "encoding": {"x": {"field": "t", "type": "quantitative", "axis": {"title": null}}, "y": {"field": "v", "type": "quantitative", "axis": {"title": null}}}},
  {"data": {"values": [{"t": 1.59, "v": 0.21, "s": "1.589 *"}, {"t": 2.2, "v": 0.226, "s": "2.188 *"}]}, "mark": {"type": "text", "angle": 270, "align": "left", "baseline": "middle", "fontSize": 5, "color": "#4a6a90"}, "encoding": {"x": {"field": "t", "type": "quantitative", "axis": {"title": null}}, "y": {"field": "v", "type": "quantitative", "axis": {"title": null}}, "text": {"field": "s"}}},
  {"data": {"name": "one"}, "mark": {"type": "text", "text": "[", "align": "left", "baseline": "alphabetic", "fontSize": 29, "color": "#111"}, "encoding": {"x": {"datum": 3.83, "type": "quantitative", "axis": {"title": null}}, "y": {"datum": 1.037, "type": "quantitative", "axis": {"title": null}}}},
  {"data": {"name": "one"}, "mark": {"type": "text", "text": "68", "align": "left", "baseline": "alphabetic", "fontSize": 18, "dx": 8, "dy": -11, "color": "#111"}, "encoding": {"x": {"datum": 3.83, "type": "quantitative", "axis": {"title": null}}, "y": {"datum": 1.037, "type": "quantitative", "axis": {"title": null}}}},
  {"data": {"name": "one"}, "mark": {"type": "text", "text": "Ga]Ga-NDL-1", "align": "left", "baseline": "alphabetic", "fontSize": 29, "dx": 28, "color": "#111"}, "encoding": {"x": {"datum": 3.83, "type": "quantitative", "axis": {"title": null}}, "y": {"datum": 1.037, "type": "quantitative", "axis": {"title": null}}}},
  {"data": {"name": "one"}, "mark": {"type": "text", "text": "R", "align": "left", "baseline": "alphabetic", "fontSize": 29, "color": "#111"}, "encoding": {"x": {"datum": 3.83, "type": "quantitative", "axis": {"title": null}}, "y": {"datum": 0.746, "type": "quantitative", "axis": {"title": null}}}},
  {"data": {"name": "one"}, "mark": {"type": "text", "text": "T", "align": "left", "baseline": "alphabetic", "fontSize": 18, "dx": 21, "dy": 6, "color": "#111"}, "encoding": {"x": {"datum": 3.83, "type": "quantitative", "axis": {"title": null}}, "y": {"datum": 0.746, "type": "quantitative", "axis": {"title": null}}}},
  {"data": {"name": "one"}, "mark": {"type": "text", "text": "= 2.5 min", "align": "left", "baseline": "alphabetic", "fontSize": 29, "dx": 40, "color": "#111"}, "encoding": {"x": {"datum": 3.83, "type": "quantitative", "axis": {"title": null}}, "y": {"datum": 0.746, "type": "quantitative", "axis": {"title": null}}}}
 ]}
], "spacing": 13},
{"vconcat": [
{"width": 624, "height": 1, "data": {"values": []}, "mark": "point", "view": {"stroke": null}},
{"width": 624, "height": 144, "view": {"stroke": "#9c9c9c"},
 "layer": [
  {"data": {"name": "one"}, "mark": {"type": "text", "text": "cps *1000", "align": "left", "baseline": "middle", "dx": 4, "fontSize": 11.5, "font": "DejaVu Sans Condensed, Liberation Sans", "color": "#555555"}, "encoding": {"x": {"datum": 0, "type": "quantitative", "axis": {"title": null}}, "y": {"datum": 315, "type": "quantitative", "axis": {"title": null}}}},
  {"data": {"name": "one"}, "mark": {"type": "text", "text": "Count rate of Channel A, Energy window=13..1600 keV", "align": "right", "baseline": "middle", "dx": -2, "fontSize": 11.5, "font": "DejaVu Sans Condensed, Liberation Sans", "color": "#555555"}, "encoding": {"x": {"datum": 10, "type": "quantitative", "axis": {"title": null}}, "y": {"datum": 315, "type": "quantitative", "axis": {"title": null}}}},
  {"data": {"name": "one"}, "mark": {"type": "rule", "color": "#666666", "strokeWidth": 1}, "encoding": {"y": {"datum": 0, "type": "quantitative", "axis": {"title": null}}}},
  {"data": {"name": "gtr"}, "mark": {"type": "area", "fill": "#3f8d25", "stroke": "#2d5f1c", "strokeWidth": 0.6}, "encoding": {"x": {"field": "t", "type": "quantitative", "axis": {"title": null}}, "y": {"field": "v", "type": "quantitative", "axis": {"title": null}}}},
  {"data": {"name": "red350"}, "mark": {"type": "area", "fill": "#e05656", "stroke": "#3a3a3a", "strokeWidth": 0.6, "clip": true},
   "encoding": {
    "x": {"field": "t", "type": "quantitative", "scale": {"domain": [0, 10], "nice": false, "zero": false}, "axis": {"values": [0,0.3333,0.6667,1,1.3333,1.6667,2,2.3333,2.6667,3,3.3333,3.6667,4,4.3333,4.6667,5,5.3333,5.6667,6,6.3333,6.6667,7,7.3333,7.6667,8,8.3333,8.6667,9,9.3333,9.6667,10], "tickCount": 200, "labelExpr": "abs(datum.value - round(datum.value)) < 0.01 ? (datum.value > 9.99 ? 'min' : '0' + round(datum.value) + \"'00\") : ''", "labelAlign": {"condition": {"test": "datum.value > 9.99", "value": "right"}, "value": "center"}, "title": null, "grid": false, "domain": false, "tickSize": 6, "tickColor": "#888888", "labelFontSize": 12, "labelFont": "DejaVu Sans Condensed, Liberation Sans", "labelColor": "#444444", "labelPadding": 2, "labelFlush": false, "labelOverlap": false}},
    "y": {"field": "v", "type": "quantitative", "scale": {"domain": [-10, 350], "nice": false, "zero": false}, "axis": {"values": [0, 200], "tickCount": 200, "title": null, "grid": false, "domain": false, "tickSize": 4, "tickColor": "#777777", "labelFontSize": 12, "labelFont": "DejaVu Sans Condensed, Liberation Sans", "labelColor": "#555555", "labelPadding": 2, "labelOverlap": false, "minExtent": 28, "maxExtent": 28}}
   }},
  {"data": {"values": [{"t": 6.81, "v": 235, "s": "Reg #2"}, {"t": 2.87, "v": 22.5, "s": "Reg #1"}]}, "mark": {"type": "text", "angle": 270, "align": "left", "baseline": "middle", "fontSize": 12, "font": "Liberation Sans", "color": "#555555"}, "encoding": {"x": {"field": "t", "type": "quantitative", "axis": {"title": null}}, "y": {"field": "v", "type": "quantitative", "axis": {"title": null}}, "text": {"field": "s"}}},
  {"data": {"name": "one"}, "mark": {"type": "text", "text": "[", "align": "left", "baseline": "alphabetic", "fontSize": 29, "color": "#111"}, "encoding": {"x": {"datum": 1.106, "type": "quantitative", "axis": {"title": null}}, "y": {"datum": 267.5, "type": "quantitative", "axis": {"title": null}}}},
  {"data": {"name": "one"}, "mark": {"type": "text", "text": "68", "align": "left", "baseline": "alphabetic", "fontSize": 18, "dx": 8, "dy": -11, "color": "#111"}, "encoding": {"x": {"datum": 1.106, "type": "quantitative", "axis": {"title": null}}, "y": {"datum": 267.5, "type": "quantitative", "axis": {"title": null}}}},
  {"data": {"name": "one"}, "mark": {"type": "text", "text": "Ga]Ga-NLL-1", "align": "left", "baseline": "alphabetic", "fontSize": 29, "dx": 28, "color": "#111"}, "encoding": {"x": {"datum": 1.106, "type": "quantitative", "axis": {"title": null}}, "y": {"datum": 267.5, "type": "quantitative", "axis": {"title": null}}}},
  {"data": {"name": "one"}, "mark": {"type": "text", "text": "R", "align": "left", "baseline": "alphabetic", "fontSize": 29, "color": "#111"}, "encoding": {"x": {"datum": 1.106, "type": "quantitative", "axis": {"title": null}}, "y": {"datum": 192.5, "type": "quantitative", "axis": {"title": null}}}},
  {"data": {"name": "one"}, "mark": {"type": "text", "text": "T", "align": "left", "baseline": "alphabetic", "fontSize": 18, "dx": 21, "dy": 6, "color": "#111"}, "encoding": {"x": {"datum": 1.106, "type": "quantitative", "axis": {"title": null}}, "y": {"datum": 192.5, "type": "quantitative", "axis": {"title": null}}}},
  {"data": {"name": "one"}, "mark": {"type": "text", "text": "= 6.7 min", "align": "left", "baseline": "alphabetic", "fontSize": 29, "dx": 40, "color": "#111"}, "encoding": {"x": {"datum": 1.106, "type": "quantitative", "axis": {"title": null}}, "y": {"datum": 192.5, "type": "quantitative", "axis": {"title": null}}}}
 ]},
{"width": 624, "height": 143, "view": {"stroke": "#9c9c9c"},
 "layer": [
  {"data": {"name": "one"}, "mark": {"type": "text", "text": "cps *1000", "align": "left", "baseline": "middle", "dx": 4, "fontSize": 11.5, "font": "DejaVu Sans Condensed, Liberation Sans", "color": "#555555"}, "encoding": {"x": {"datum": 0, "type": "quantitative", "axis": {"title": null}}, "y": {"datum": 25.5, "type": "quantitative", "axis": {"title": null}}}},
  {"data": {"name": "one"}, "mark": {"type": "text", "text": "Count rate of Channel A, Energy window=13..1600 keV", "align": "right", "baseline": "middle", "dx": -2, "fontSize": 11.5, "font": "DejaVu Sans Condensed, Liberation Sans", "color": "#555555"}, "encoding": {"x": {"datum": 10, "type": "quantitative", "axis": {"title": null}}, "y": {"datum": 25.5, "type": "quantitative", "axis": {"title": null}}}},
  {"data": {"name": "one"}, "mark": {"type": "rule", "color": "#666666", "strokeWidth": 1}, "encoding": {"y": {"datum": 0, "type": "quantitative", "axis": {"title": null}}}},
  {"data": {"name": "gmr"}, "mark": {"type": "area", "fill": "#3f8d25", "stroke": "#2d5f1c", "strokeWidth": 0.6}, "encoding": {"x": {"field": "t", "type": "quantitative", "axis": {"title": null}}, "y": {"field": "v", "type": "quantitative", "axis": {"title": null}}}},
  {"data": {"name": "red28"}, "mark": {"type": "area", "fill": "#e05656", "stroke": "#3a3a3a", "strokeWidth": 0.6, "clip": true},
   "encoding": {
    "x": {"field": "t", "type": "quantitative", "scale": {"domain": [0, 10], "nice": false, "zero": false}, "axis": {"values": [0,0.3333,0.6667,1,1.3333,1.6667,2,2.3333,2.6667,3,3.3333,3.6667,4,4.3333,4.6667,5,5.3333,5.6667,6,6.3333,6.6667,7,7.3333,7.6667,8,8.3333,8.6667,9,9.3333,9.6667,10], "tickCount": 200, "labelExpr": "abs(datum.value - round(datum.value)) < 0.01 ? (datum.value > 9.99 ? 'min' : '0' + round(datum.value) + \"'00\") : ''", "labelAlign": {"condition": {"test": "datum.value > 9.99", "value": "right"}, "value": "center"}, "title": null, "grid": false, "domain": false, "tickSize": 6, "tickColor": "#888888", "labelFontSize": 12, "labelFont": "DejaVu Sans Condensed, Liberation Sans", "labelColor": "#444444", "labelPadding": 2, "labelFlush": false, "labelOverlap": false}},
    "y": {"field": "v", "type": "quantitative", "scale": {"domain": [-0.8, 28.4], "nice": false, "zero": false}, "axis": {"values": [0, 10, 20], "tickCount": 200, "format": ".1f", "title": null, "grid": false, "domain": false, "tickSize": 4, "tickColor": "#777777", "labelFontSize": 12, "labelFont": "DejaVu Sans Condensed, Liberation Sans", "labelColor": "#555555", "labelPadding": 2, "labelOverlap": false, "minExtent": 28, "maxExtent": 28}}
   }},
  {"data": {"values": [{"t": 6.81, "v": 19.0, "s": "Reg #2"}, {"t": 2.95, "v": 1.3, "s": "Reg #1"}]}, "mark": {"type": "text", "angle": 270, "align": "left", "baseline": "middle", "fontSize": 12, "font": "Liberation Sans", "color": "#555555"}, "encoding": {"x": {"field": "t", "type": "quantitative", "axis": {"title": null}}, "y": {"field": "v", "type": "quantitative", "axis": {"title": null}}, "text": {"field": "s"}}},
  {"data": {"name": "one"}, "mark": {"type": "text", "text": "[", "align": "left", "baseline": "alphabetic", "fontSize": 29, "color": "#111"}, "encoding": {"x": {"datum": 1.2, "type": "quantitative", "axis": {"title": null}}, "y": {"datum": 21.66, "type": "quantitative", "axis": {"title": null}}}},
  {"data": {"name": "one"}, "mark": {"type": "text", "text": "68", "align": "left", "baseline": "alphabetic", "fontSize": 18, "dx": 8, "dy": -11, "color": "#111"}, "encoding": {"x": {"datum": 1.2, "type": "quantitative", "axis": {"title": null}}, "y": {"datum": 21.66, "type": "quantitative", "axis": {"title": null}}}},
  {"data": {"name": "one"}, "mark": {"type": "text", "text": "Ga]Ga-NLL-1", "align": "left", "baseline": "alphabetic", "fontSize": 29, "dx": 28, "color": "#111"}, "encoding": {"x": {"datum": 1.2, "type": "quantitative", "axis": {"title": null}}, "y": {"datum": 21.66, "type": "quantitative", "axis": {"title": null}}}},
  {"data": {"name": "one"}, "mark": {"type": "text", "text": "R", "align": "left", "baseline": "alphabetic", "fontSize": 29, "color": "#111"}, "encoding": {"x": {"datum": 1.2, "type": "quantitative", "axis": {"title": null}}, "y": {"datum": 14.92, "type": "quantitative", "axis": {"title": null}}}},
  {"data": {"name": "one"}, "mark": {"type": "text", "text": "T", "align": "left", "baseline": "alphabetic", "fontSize": 18, "dx": 21, "dy": 6, "color": "#111"}, "encoding": {"x": {"datum": 1.2, "type": "quantitative", "axis": {"title": null}}, "y": {"datum": 14.92, "type": "quantitative", "axis": {"title": null}}}},
  {"data": {"name": "one"}, "mark": {"type": "text", "text": "= 6.7 min", "align": "left", "baseline": "alphabetic", "fontSize": 29, "dx": 40, "color": "#111"}, "encoding": {"x": {"datum": 1.2, "type": "quantitative", "axis": {"title": null}}, "y": {"datum": 14.92, "type": "quantitative", "axis": {"title": null}}}}
 ]},
{"width": 624, "height": 144, "view": {"stroke": "#9c9c9c"},
 "layer": [
  {"data": {"name": "one"}, "mark": {"type": "text", "text": "cps *1000", "align": "left", "baseline": "middle", "dx": 4, "fontSize": 11.5, "font": "DejaVu Sans Condensed, Liberation Sans", "color": "#555555"}, "encoding": {"x": {"datum": 0, "type": "quantitative", "axis": {"title": null}}, "y": {"datum": 25.56, "type": "quantitative", "axis": {"title": null}}}},
  {"data": {"name": "one"}, "mark": {"type": "text", "text": "Count rate of Channel A, Energy window=13..1600 keV", "align": "right", "baseline": "middle", "dx": -2, "fontSize": 11.5, "font": "DejaVu Sans Condensed, Liberation Sans", "color": "#555555"}, "encoding": {"x": {"datum": 10, "type": "quantitative", "axis": {"title": null}}, "y": {"datum": 25.56, "type": "quantitative", "axis": {"title": null}}}},
  {"data": {"name": "one"}, "mark": {"type": "rule", "color": "#666666", "strokeWidth": 1}, "encoding": {"y": {"datum": 0, "type": "quantitative", "axis": {"title": null}}}},
  {"data": {"name": "gbr"}, "mark": {"type": "area", "fill": "#3f8d25", "stroke": "#2d5f1c", "strokeWidth": 0.6}, "encoding": {"x": {"field": "t", "type": "quantitative", "axis": {"title": null}}, "y": {"field": "v", "type": "quantitative", "axis": {"title": null}}}},
  {"data": {"name": "red28"}, "mark": {"type": "area", "fill": "#e05656", "stroke": "#3a3a3a", "strokeWidth": 0.6, "clip": true},
   "encoding": {
    "x": {"field": "t", "type": "quantitative", "scale": {"domain": [0, 10], "nice": false, "zero": false}, "axis": {"values": [0,0.3333,0.6667,1,1.3333,1.6667,2,2.3333,2.6667,3,3.3333,3.6667,4,4.3333,4.6667,5,5.3333,5.6667,6,6.3333,6.6667,7,7.3333,7.6667,8,8.3333,8.6667,9,9.3333,9.6667,10], "tickCount": 200, "labelExpr": "abs(datum.value - round(datum.value)) < 0.01 ? (datum.value > 9.99 ? 'min' : '0' + round(datum.value) + \"'00\") : ''", "labelAlign": {"condition": {"test": "datum.value > 9.99", "value": "right"}, "value": "center"}, "title": null, "grid": false, "domain": false, "tickSize": 6, "tickColor": "#888888", "labelFontSize": 12, "labelFont": "DejaVu Sans Condensed, Liberation Sans", "labelColor": "#444444", "labelPadding": 2, "labelFlush": false, "labelOverlap": false}},
    "y": {"field": "v", "type": "quantitative", "scale": {"domain": [-0.8, 28.4], "nice": false, "zero": false}, "axis": {"values": [0, 10], "tickCount": 200, "format": ".1f", "title": null, "grid": false, "domain": false, "tickSize": 4, "tickColor": "#777777", "labelFontSize": 12, "labelFont": "DejaVu Sans Condensed, Liberation Sans", "labelColor": "#555555", "labelPadding": 2, "labelOverlap": false, "minExtent": 28, "maxExtent": 28}}
   }},
  {"data": {"values": [{"t": 7.0, "v": 13.4, "s": "RAD.0.0-R1"}, {"t": 3.2, "v": 1.2, "s": "RAD.0.0-R2"}]}, "mark": {"type": "text", "angle": 270, "align": "left", "baseline": "middle", "fontSize": 12, "font": "Liberation Sans", "color": "#555555"}, "encoding": {"x": {"field": "t", "type": "quantitative", "axis": {"title": null}}, "y": {"field": "v", "type": "quantitative", "axis": {"title": null}}, "text": {"field": "s"}}},
  {"data": {"name": "one"}, "mark": {"type": "text", "text": "[", "align": "left", "baseline": "alphabetic", "fontSize": 29, "color": "#111"}, "encoding": {"x": {"datum": 1.27, "type": "quantitative", "axis": {"title": null}}, "y": {"datum": 21.9, "type": "quantitative", "axis": {"title": null}}}},
  {"data": {"name": "one"}, "mark": {"type": "text", "text": "68", "align": "left", "baseline": "alphabetic", "fontSize": 18, "dx": 8, "dy": -11, "color": "#111"}, "encoding": {"x": {"datum": 1.27, "type": "quantitative", "axis": {"title": null}}, "y": {"datum": 21.9, "type": "quantitative", "axis": {"title": null}}}},
  {"data": {"name": "one"}, "mark": {"type": "text", "text": "Ga]Ga-NLL-1", "align": "left", "baseline": "alphabetic", "fontSize": 29, "dx": 28, "color": "#111"}, "encoding": {"x": {"datum": 1.27, "type": "quantitative", "axis": {"title": null}}, "y": {"datum": 21.9, "type": "quantitative", "axis": {"title": null}}}},
  {"data": {"name": "one"}, "mark": {"type": "text", "text": "R", "align": "left", "baseline": "alphabetic", "fontSize": 29, "color": "#111"}, "encoding": {"x": {"datum": 1.27, "type": "quantitative", "axis": {"title": null}}, "y": {"datum": 15.2, "type": "quantitative", "axis": {"title": null}}}},
  {"data": {"name": "one"}, "mark": {"type": "text", "text": "T", "align": "left", "baseline": "alphabetic", "fontSize": 18, "dx": 21, "dy": 6, "color": "#111"}, "encoding": {"x": {"datum": 1.27, "type": "quantitative", "axis": {"title": null}}, "y": {"datum": 15.2, "type": "quantitative", "axis": {"title": null}}}},
  {"data": {"name": "one"}, "mark": {"type": "text", "text": "= 6.7 min", "align": "left", "baseline": "alphabetic", "fontSize": 29, "dx": 40, "color": "#111"}, "encoding": {"x": {"datum": 1.27, "type": "quantitative", "axis": {"title": null}}, "y": {"datum": 15.2, "type": "quantitative", "axis": {"title": null}}}}
 ]}
], "spacing": 8}
]
}
